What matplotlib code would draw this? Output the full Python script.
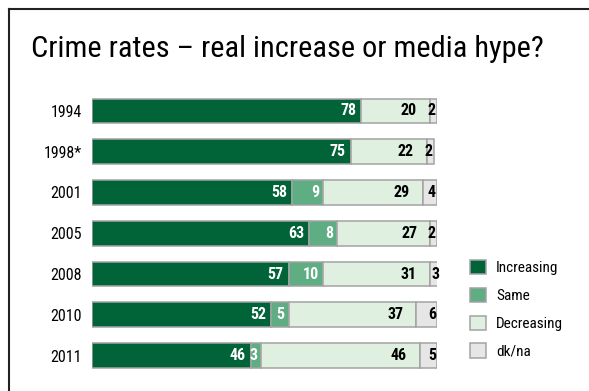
"""Horizontal stacked bars: public perception of crime rate trends by survey year."""

import matplotlib

matplotlib.use("Agg")
import matplotlib.pyplot as plt
from matplotlib.lines import Line2D

plt.rcParams["font.family"] = ["Roboto Condensed", "Liberation Sans", "DejaVu Sans"]

years = ["1994", "1998*", "2001", "2005", "2008", "2010", "2011"]
increasing = [78, 75, 58, 63, 57, 52, 46]
same = [0, 0, 9, 8, 10, 5, 3]
decreasing = [20, 22, 29, 27, 31, 37, 46]
dk_na = [2, 2, 4, 2, 3, 6, 5]

series_names = ["Increasing", "Same", "Decreasing", "dk/na"]
series_values = [increasing, same, decreasing, dk_na]

COLORS = ["#006438", "#5fad82", "#dff0e0", "#e6e6e6"]
TEXT_COLORS = ["white", "white", "black", "black"]
LABEL_PAD = [5, 4, 13, 1]  # px in from the segment's right end
EDGE = "#a3a3a3"

W, H = 589, 391
fig = plt.figure(figsize=(W / 100, H / 100), dpi=100)

# Bar area: 0..100 % spans x px 92..437, bar centres 111..355.5 px
ax = fig.add_axes([92 / W, 1 - 375.9 / H, 345 / W, 285.3 / H])
ax.set_xlim(0, 100)
ax.set_ylim(len(years) - 0.5, -0.5)

px_per_unit = 345 / 100
left = [0] * len(years)
handles = []
for name, vals, col, tcol, pad in zip(series_names, series_values, COLORS, TEXT_COLORS, LABEL_PAD):
    for i, v in enumerate(vals):
        if v:
            ax.barh(i, v, left=left[i], height=0.61, color=col,
                    edgecolor=EDGE, linewidth=1.1)
            ax.text(left[i] + v - pad / px_per_unit, i, str(v), ha="right", va="center",
                    color=tcol, fontsize=11.5, fontweight="bold")
        left[i] += v
    handles.append(plt.Rectangle((0, 0), 1, 1, facecolor=col, edgecolor=EDGE, linewidth=1.1))

ax.set_yticks(range(len(years)))
ax.set_yticklabels(years, fontsize=11.5)
ax.tick_params(axis="y", length=0, pad=7.5)
ax.set_xticks([])
for spine in ax.spines.values():
    spine.set_visible(False)

fig.legend(handles, series_names, loc="upper left",
           bbox_to_anchor=(470 / W, 1 - 260 / H), frameon=False, fontsize=11,
           handlelength=1.05, handleheight=1.05, labelspacing=0.82,
           handletextpad=0.65, borderpad=0, borderaxespad=0)

fig.text(287 / W, 1 - 57 / H, "Crime rates \u2013 real increase or media hype?",
         ha="center", va="baseline", fontsize=21.9)

# slide frame, only the top and left edges fall inside the image
fig.add_artist(Line2D([8.5 / W, 8.5 / W], [0, 1 - 8.5 / H], color="#222222", linewidth=1.5))
fig.add_artist(Line2D([8.5 / W, 1], [1 - 8.5 / H, 1 - 8.5 / H], color="#222222", linewidth=1.5))

fig.savefig("out.png", dpi=100)
